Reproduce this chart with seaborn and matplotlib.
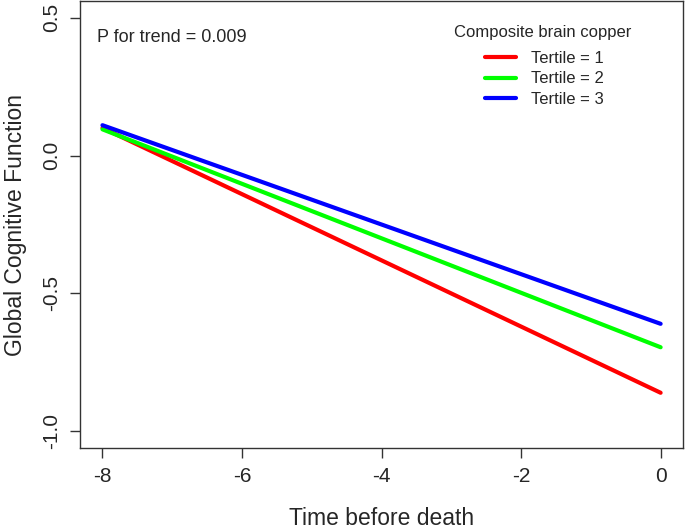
import pandas as pd
import matplotlib.pyplot as plt
import seaborn as sns

# 数据：各三分位组在死亡前 -8 与 0 年的拟合值
time_pts = [-8, 0]
tertiles = ["Tertile = 1", "Tertile = 2", "Tertile = 3"]
start_vals = [0.10, 0.095, 0.11]
end_vals = [-0.86, -0.695, -0.61]
colors = ["#FF0000", "#00FF00", "#0000FF"]

rows = []
for t, s, e in zip(tertiles, start_vals, end_vals):
    rows.append({"time": time_pts[0], "gcf": s, "group": t})
    rows.append({"time": time_pts[1], "gcf": e, "group": t})
df = pd.DataFrame(rows)

sns.set_style("ticks")
plt.rcParams["font.family"] = ["Liberation Sans", "DejaVu Sans"]
plt.rcParams["axes.unicode_minus"] = False

fig = plt.figure(figsize=(6.85, 5.32), dpi=100)
ax = fig.add_axes([0.117, 0.158, 0.880, 0.840])

sns.lineplot(data=df, x="time", y="gcf", hue="group", palette=colors,
             linewidth=3, ax=ax, legend=False)

ax.set_xlim(-8.32, 0.32)
ax.set_ylim(-1.06, 0.56)
ax.set_xticks([-8, -6, -4, -2, 0])
ax.set_yticks([-1.0, -0.5, 0.0, 0.5])
ax.set_yticklabels(["-1.0", "-0.5", "0.0", "0.5"], rotation=90, va="center")
ax.tick_params(labelsize=15, length=7, width=1, color="#333333", pad=7)
for sp in ax.spines.values():
    sp.set_color("#333333")
    sp.set_linewidth(1)

ax.set_xlabel("Time before death", fontsize=16.5, labelpad=15)
ax.set_ylabel("Global Cognitive Function", fontsize=16.5, labelpad=10.5)

ax.text(0.028, 0.908, "P for trend = 0.009", transform=ax.transAxes,
        fontsize=13, va="baseline")

# 图例标题单独写，便于控制与条目的间距
ax.text(0.768, 0.93, "Composite brain copper", transform=ax.transAxes,
        fontsize=12, ha="center", va="center")
handles = [plt.Line2D([], [], color=c, lw=3) for c in colors]
leg = ax.legend(handles, tertiles, frameon=False,
                loc="upper left", bbox_to_anchor=(0.672, 0.888), fontsize=12,
                handlelength=1.85, handletextpad=0.9,
                labelspacing=0.32, borderpad=0, borderaxespad=0)

plt.savefig("out.png", dpi=100)
